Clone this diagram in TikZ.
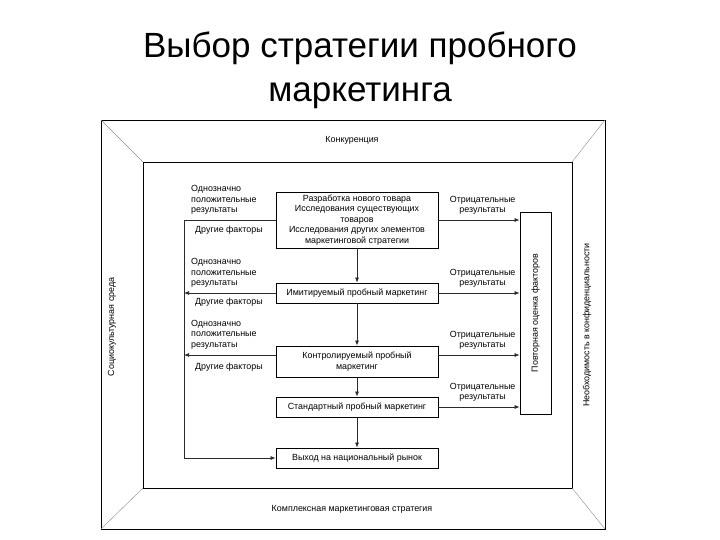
\documentclass[tikz,border=0pt]{standalone}
\usepackage{fontspec}
\setmainfont{Liberation Sans}
\usepackage{tikz}
\usetikzlibrary{arrows.meta,positioning,calc}
\definecolor{framegray}{HTML}{8C8C8C}
\definecolor{ink}{HTML}{2A2A2A}

\begin{document}
\begin{tikzpicture}[x=1pt,y=-1pt,>={Latex[length=5pt,width=4pt]},font=\fontsize{8.9}{10.5}\selectfont,
  stage/.style={draw,line width=0.8pt,minimum width=162pt,minimum height=20pt,align=center,inner sep=2pt},
  lbl/.style={align=left,inner sep=0pt},
  neg/.style={align=center,inner sep=0pt},
  conn/.style={ink,line width=0.7pt}]
  \useasboundingbox (0,0) rectangle (720,540);
  \node[font=\fontsize{35}{44}\selectfont,align=center] (title) at (360,70) {Выбор стратегии пробного\\маркетинга};
  % frame
  \draw[line width=0.8pt] (101,120) rectangle (605,529);
  \draw[line width=0.8pt] (143,162) rectangle (572,488);
  \draw[framegray] (101,120) -- (143,162) (605,120) -- (572,162)
    (101,529) -- (143,488) (605,529) -- (572,488);
  \node (comp) at (352,140) {Конкуренция};
  \node (strat) at (352,509) {Комплексная маркетинговая стратегия};
  \node[rotate=90] (soc) at (112,327) {Социокультурная среда};
  \node[rotate=90] (secr) at (587,325) {Необходимость в конфиденциальности};
  % stages
  \node[stage,minimum height=56pt,inner sep=1pt] (dev) at (357,220) {Разработка нового товара\\Исследования существующих\\товаров\\Исследования других элементов\\маркетинговой стратегии};
  \node[stage] (imit) at (357,293) {Имитируемый пробный маркетинг};
  \node[stage,minimum height=31pt] (ctrl) at (357,361.5) {Контролируемый пробный\\маркетинг};
  \node[stage] (std) at (357,407) {Стандартный пробный маркетинг};
  \node[stage] (fin) at (357,458) {Выход на национальный рынок};
  \node[draw,line width=0.8pt,minimum width=31pt,minimum height=202pt,
    label={[rotate=90]center:Повторная оценка факторов}] (rev) at (535.5,313) {};
  \coordinate (lft) at (184,0);
  % down the chain
  \draw[conn,->] (dev) -- (imit);
  \draw[conn,->] (imit) -- (ctrl);
  \draw[conn,->] (ctrl) -- (std);
  \draw[conn,->] (std) -- (fin);
  % left side
  \draw[conn,->] (dev.west) -- (dev.west -| lft) -- (lft |- fin.west) -- (fin.west);
  \draw[conn,->] (imit.west) -- (imit.west -| lft);
  \draw[conn,->] ([yshift=6.5pt]ctrl.west) -- ([yshift=6.5pt]ctrl.west -| lft);
  \node[lbl,anchor=south west] (pos1) at ($(dev.west -| lft)+(7,-5)$) {Однозначно\\положительные\\результаты};
  \node[lbl,anchor=north west] (oth1) at ($(dev.west -| lft)+(11,6)$) {Другие факторы};
  \node[lbl,anchor=south west] (pos2) at ($(imit.west -| lft)+(7,-5)$) {Однозначно\\положительные\\результаты};
  \node[lbl,anchor=north west] (oth2) at ($(imit.west -| lft)+(11,5)$) {Другие факторы};
  \node[lbl,anchor=south west] (pos3) at ($(ctrl.west -| lft)+(7,-12)$) {Однозначно\\положительные\\результаты};
  \node[lbl,anchor=north west] (oth3) at ($(ctrl.west -| lft)+(11,1)$) {Другие факторы};
  % right side
  \draw[conn,->] (dev.east) -- (dev.east -| rev.west);
  \draw[conn,->] (imit.east) -- (imit.east -| rev.west);
  \draw[conn,->] ([yshift=6.5pt]ctrl.east) -- ([yshift=6.5pt]ctrl.east -| rev.west);
  \draw[conn,->] (std.east) -- (std.east -| rev.west);
  \node[neg,anchor=south] (neg1) at ($(dev.east -| rev.west)+(-37,-5)$) {Отрицательные\\результаты};
  \node[neg,anchor=south] (neg2) at ($(imit.east -| rev.west)+(-37,-5)$) {Отрицательные\\результаты};
  \node[neg,anchor=south] (neg3) at ($(ctrl.east -| rev.west)+(-37,-11.5)$) {Отрицательные\\результаты};
  \node[neg,anchor=south] (neg4) at ($(std.east -| rev.west)+(-37,-5)$) {Отрицательные\\результаты};
\end{tikzpicture}
\end{document}
